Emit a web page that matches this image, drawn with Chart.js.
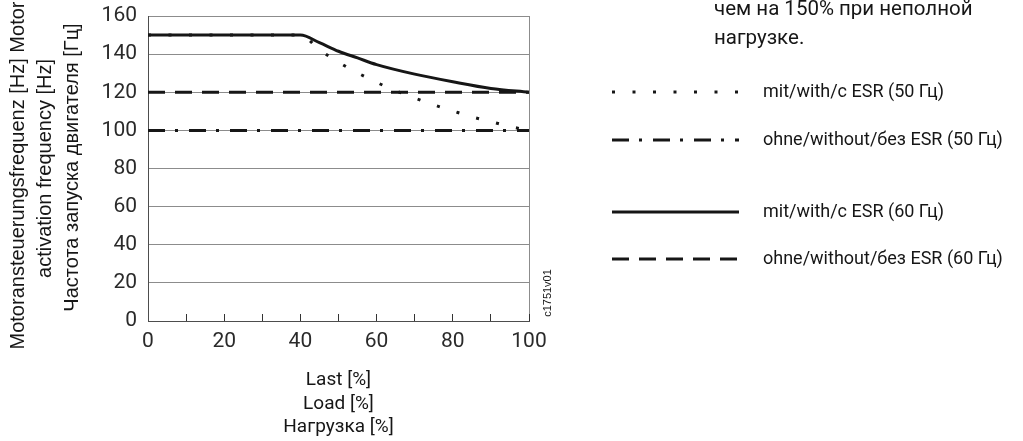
<!DOCTYPE html>
<html>
<head>
<meta charset="utf-8">
<script src="https://cdn.jsdelivr.net/npm/chart.js@4"></script>
<style>
  html, body { margin: 0; padding: 0; background: #fff; }
  #wrap { width: 1023px; height: 441px; position: relative; }
</style>
</head>
<body>
<div id="wrap"><canvas id="grafico"></canvas></div>
<script>
// --- datos ---
const esr60Load = [0, 40, 45, 50, 55, 60, 70, 80, 90, 100];
const esr60Freq = [150, 150, 146, 141.5, 138, 134.5, 129.5, 125.5, 122, 120];

const esr50Load = [0, 40, 45, 50, 55, 60, 65, 70, 75, 80, 85, 90, 95, 100];
const esr50Freq = [150, 150, 142.3, 135.8, 130.2, 125.2, 120.8, 117, 113.4, 110.2, 107.1, 104.6, 102, 100];

const noEsrLoad = [0, 100];
const noEsr60Freq = [120, 120];
const noEsr50Freq = [100, 100];

const seriesNames = [
    'mit/with/c ESR (50 Гц)',
    'ohne/without/без ESR (50 Гц)',
    'mit/with/c ESR (60 Гц)',
    'ohne/without/без ESR (60 Гц)'
];

const yTitle = ['Motoransteuerungsfrequenz [Hz] Motor', 'activation frequency [Hz]', 'Частота запуска двигателя [Гц]'];
const xTitle = ['Last [%]', 'Load [%]', 'Нагрузка [%]'];
const noteLines = ['чем на 150% при неполной', 'нагрузке.'];
const figureCode = 'c1751v01';

const ink = '#161616';
const gridGray = '#8c8c8c';
const tickFont = { family: 'Roboto', size: 21 };

function toPoints(xs, ys) {
    return xs.map((x, i) => ({ x: x, y: ys[i] }));
}

// leyenda y textos sueltos dibujados a mano
const extras = {
    id: 'extras',
    afterDraw(chart) {
        const ctx = chart.ctx;
        const area = chart.chartArea;
        const midY = (area.top + area.bottom) / 2;
        ctx.save();
        ctx.fillStyle = ink;

        // título del eje Y, tres líneas giradas (la primera algo más abajo, como en el original)
        ctx.font = "20px 'Liberation Sans', Arial, sans-serif";
        ctx.textAlign = 'center';
        ctx.textBaseline = 'middle';
        const shifts = [7, 0, -1];
        yTitle.forEach((t, i) => {
            ctx.save();
            ctx.translate(18.5 + i * 27, midY + shifts[i]);
            ctx.rotate(-Math.PI / 2);
            ctx.fillText(t, 0, 0);
            ctx.restore();
        });

        // nota de arriba (texto del documento)
        ctx.font = '20.5px Roboto';
        ctx.textAlign = 'left';
        ctx.textBaseline = 'alphabetic';
        noteLines.forEach((t, i) => ctx.fillText(t, 714, 15 + i * 28.5));

        // filas de la leyenda: [dataset, y]
        const rows = [[0, 92], [1, 140], [2, 212], [3, 259]];
        rows.forEach(([idx, y]) => {
            const ds = chart.data.datasets[idx];
            ctx.strokeStyle = ds.borderColor;
            ctx.lineWidth = ds.borderWidth;
            ctx.setLineDash(ds.borderDash || []);
            ctx.beginPath();
            ctx.moveTo(612, y);
            ctx.lineTo(739, y);
            ctx.stroke();
            ctx.setLineDash([]);
            ctx.font = '18px Roboto';
            ctx.fillText(ds.label, 763, y + 4.5);
        });

        // código de figura
        ctx.translate(548, 293);
        ctx.rotate(-Math.PI / 2);
        ctx.font = "11px 'Liberation Sans', Arial, sans-serif";
        ctx.textAlign = 'center';
        ctx.textBaseline = 'middle';
        ctx.fillText(figureCode, 0, 0);
        ctx.restore();
    }
};

const ctx = document.getElementById('grafico').getContext('2d');

new Chart(ctx, {
    type: 'line',
    data: {
        datasets: [
            {
                label: seriesNames[0],
                data: toPoints(esr50Load, esr50Freq),
                borderColor: ink,
                borderWidth: 3,
                borderDash: [3, 17.5],
                cubicInterpolationMode: 'monotone',
                pointRadius: 0,
                order: 1
            },
            {
                label: seriesNames[1],
                data: toPoints(noEsrLoad, noEsr50Freq),
                borderColor: ink,
                borderWidth: 3,
                borderDash: [17, 10, 3, 11],
                pointRadius: 0,
                order: 1
            },
            {
                label: seriesNames[2],
                data: toPoints(esr60Load, esr60Freq),
                borderColor: ink,
                borderWidth: 3,
                cubicInterpolationMode: 'monotone',
                pointRadius: 0,
                order: 0
            },
            {
                label: seriesNames[3],
                data: toPoints(noEsrLoad, noEsr60Freq),
                borderColor: ink,
                borderWidth: 3,
                borderDash: [17, 10],
                pointRadius: 0,
                order: 1
            }
        ]
    },
    options: {
        responsive: true,
        maintainAspectRatio: false,
        animation: false,
        devicePixelRatio: 1,
        layout: { padding: { top: 16, right: 494, bottom: 0, left: 0 } },
        plugins: {
            legend: { display: false },
            tooltip: { enabled: false }
        },
        scales: {
            x: {
                type: 'linear',
                min: 0,
                max: 100,
                afterFit: (s) => {
                    s.height = 120;
                    s.paddingLeft = 0;
                    s.paddingRight = 0;
                },
                grid: {
                    drawOnChartArea: true,
                    drawTicks: true,
                    tickLength: -7,
                    color: (c) => (c.tick && c.tick.value === 100 ? gridGray : 'rgba(0,0,0,0)'),
                    tickColor: '#333',
                    lineWidth: 1
                },
                border: { display: true, color: '#4d4d4d', width: 1 },
                ticks: {
                    stepSize: 10,
                    autoSkip: false,
                    maxRotation: 0,
                    padding: 15,
                    color: '#2a2a2a',
                    font: tickFont,
                    callback: (v) => (v % 20 === 0 ? v : '')
                },
                title: {
                    display: true,
                    text: xTitle,
                    color: ink,
                    font: { family: 'Roboto', size: 19, lineHeight: '23.5px' },
                    padding: { top: 0, bottom: 2 }
                }
            },
            y: {
                min: 0,
                max: 160,
                afterFit: (s) => {
                    s.width = 148;
                    s.paddingTop = 0;
                    s.paddingBottom = 0;
                },
                grid: { color: gridGray, lineWidth: 1, drawTicks: false },
                border: { display: true, color: '#4d4d4d', width: 1 },
                ticks: {
                    stepSize: 20,
                    padding: 11,
                    color: '#2a2a2a',
                    font: tickFont
                },
                title: { display: false }
            }
        }
    },
    plugins: [extras]
});
</script>
</body>
</html>
